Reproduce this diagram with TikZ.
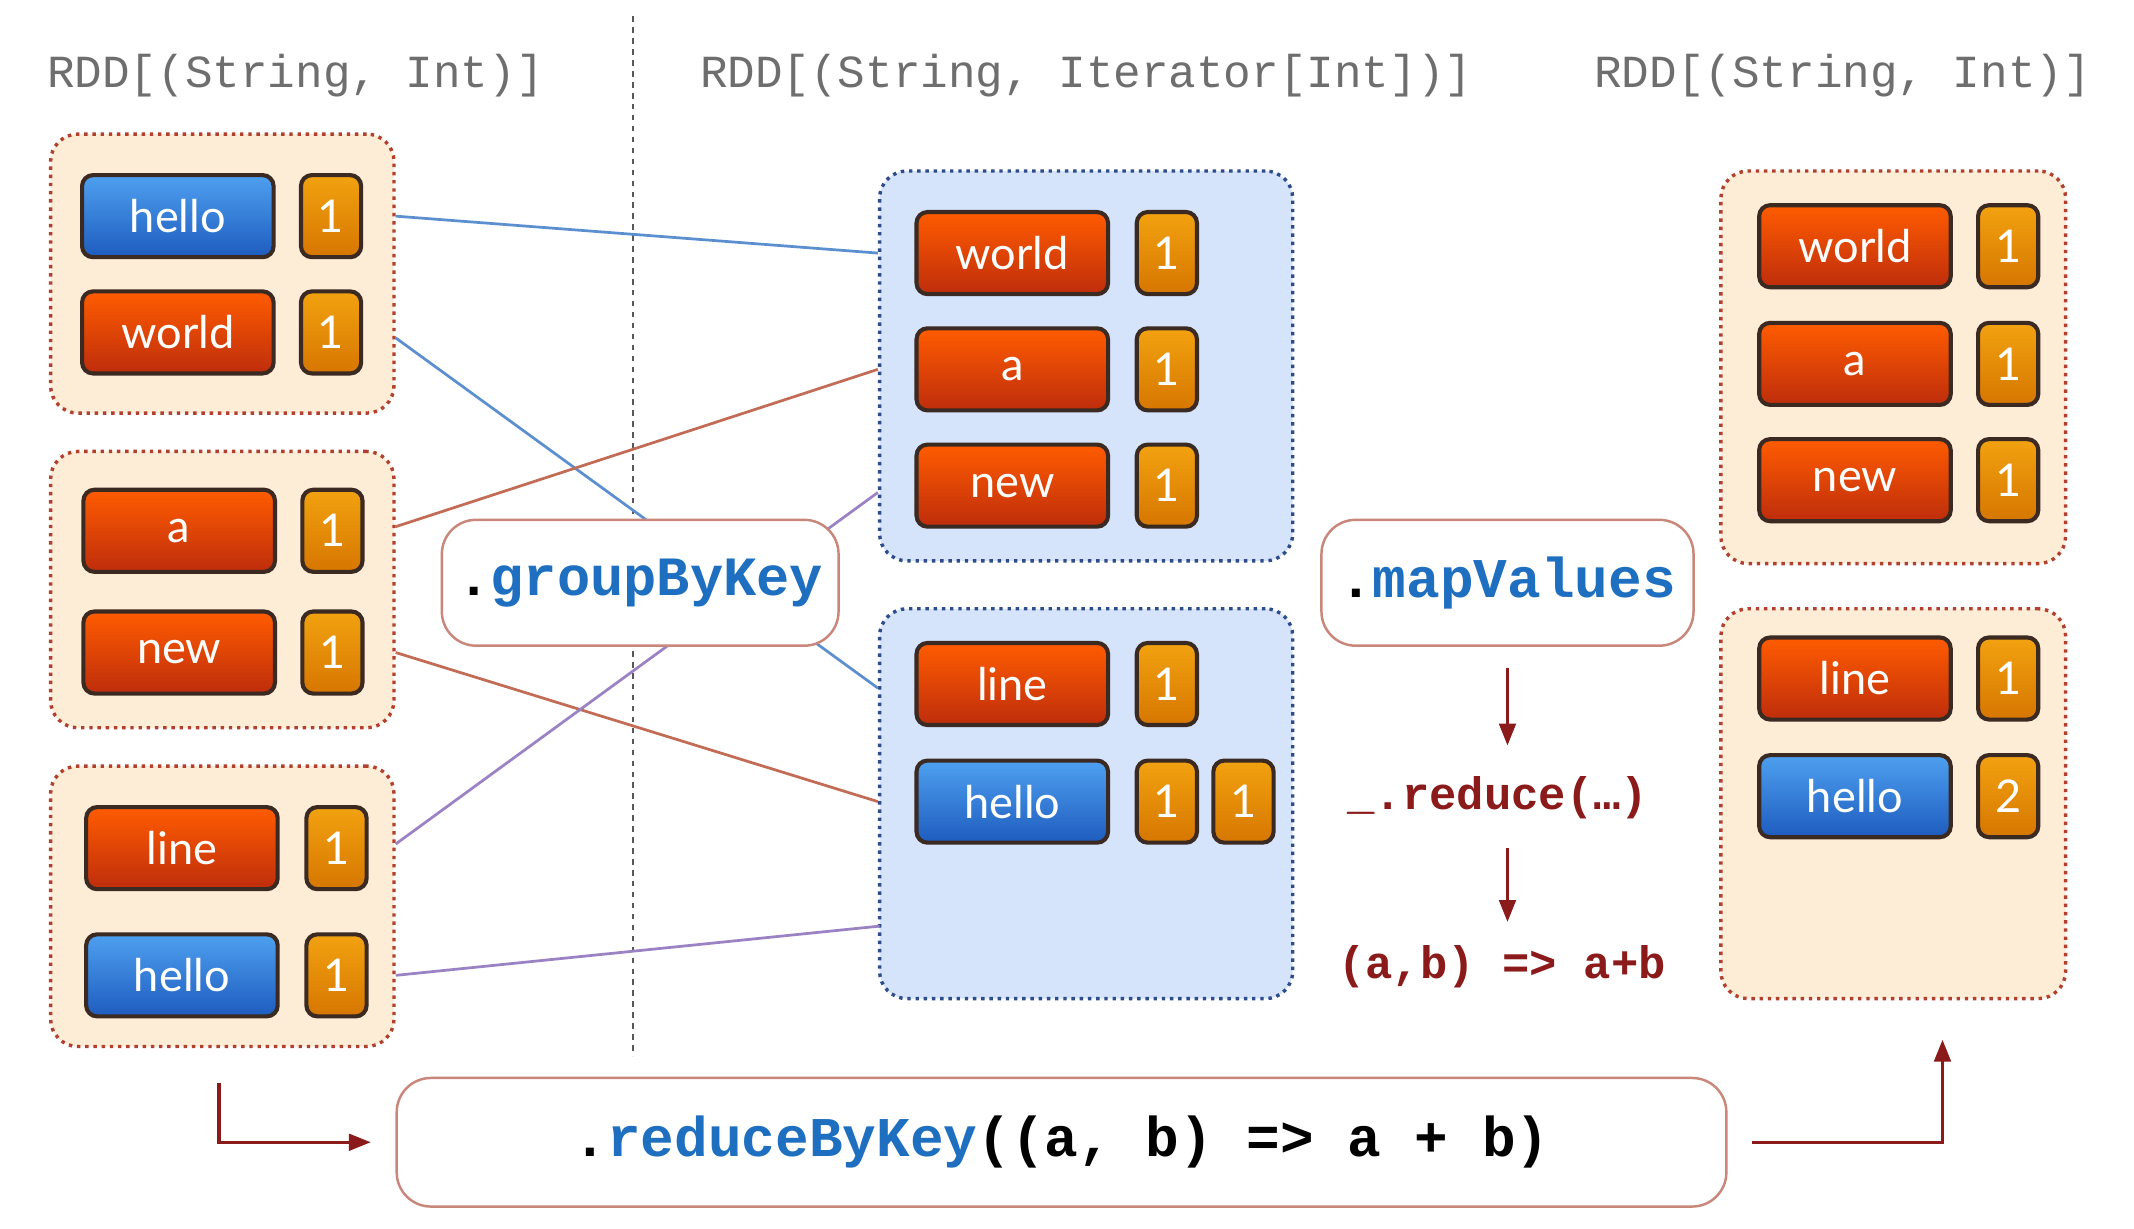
\documentclass[tikz,border=0pt]{standalone}
\usepackage{fontspec}
\setmonofont{Liberation Mono}
\newfontfamily\itemfont{Lato}
\usetikzlibrary{arrows.meta,shadings,calc}
\definecolor{hdrgray}{HTML}{6E6E6E}
\definecolor{codeblue}{HTML}{1F6FC0}
\definecolor{arrred}{HTML}{8B1A1A}
\definecolor{peach}{HTML}{FDECD6}
\definecolor{peachborder}{HTML}{B3402E}
\definecolor{bluefill}{HTML}{D5E3FB}
\definecolor{blueborder}{HTML}{2D4C8C}
\definecolor{opborder}{HTML}{C8877A}
\definecolor{itemborder}{HTML}{3A2A22}
\definecolor{cblueline}{HTML}{5B8FCF}
\definecolor{credline}{HTML}{C26B55}
\definecolor{cpurpline}{HTML}{9B82C4}
\begin{document}
\begin{tikzpicture}[x=1pt,y=-1pt,
  itembase/.style={draw=itemborder, line width=3pt, rounded corners=8pt, inner sep=0pt,
     text=white, font=\itemfont\fontsize{33}{38}\selectfont},
  redkey/.style={itembase, minimum width=140pt, minimum height=60pt, top color=red!20!orange!90!red, bottom color={rgb,255:red,190;green,45;blue,12}},
  bluekey/.style={itembase, minimum width=140pt, minimum height=60pt, top color={rgb,255:red,78;green,160;blue,240}, bottom color={rgb,255:red,30;green,92;blue,190}},
  cnt/.style={itembase, minimum width=44pt, minimum height=60pt, top color={rgb,255:red,242;green,162;blue,16}, bottom color={rgb,255:red,214;green,118;blue,0}},
  pgroup/.style={draw=peachborder, fill=peach, line width=2.5pt, dash pattern=on 2.5pt off 3.5pt, rounded corners=20pt, inner sep=0pt},
  bgroup/.style={draw=blueborder, fill=bluefill, line width=2.5pt, dash pattern=on 2.5pt off 3.5pt, rounded corners=20pt, inner sep=0pt},
  opbox/.style={draw=opborder, fill=white, line width=1.8pt, rounded corners=25pt, inner sep=0pt},
  hdr/.style={text=hdrgray, font=\ttfamily\fontsize{33.6}{40}\selectfont, inner sep=0pt},
  redtxt/.style={text=arrred, font=\ttfamily\bfseries\fontsize{33.3}{40}\selectfont, inner sep=0pt},
  conn/.style={line width=2pt},
  redarrow/.style={draw=arrred, line width=2.5pt, -{Triangle[length=16pt,width=12pt]}}
]
\useasboundingbox (0,0) rectangle (1560,898);
\fill[white] (0,0) rectangle (1560,898);

% headers
\node[hdr] (h1) at (216,55) {RDD[(String, Int)]};
\node[hdr] (h2) at (794,55) {RDD[(String, Iterator[Int])]};
\node[hdr] (h3) at (1347,55) {RDD[(String, Int)]};

% left groups
\node[pgroup, minimum width=251pt, minimum height=204pt] (l1) at (162.5,200) {};
\node[pgroup, minimum width=251pt, minimum height=202pt] (l2) at (162.5,431) {};
\node[pgroup, minimum width=251pt, minimum height=205pt] (l3) at (162.5,662.5) {};
\node[bluekey] (l1a) at (130,158) {hello};
\node[cnt] (l1ac) at (242,158) {1};
\node[redkey] (l1b) at (130,243) {world};
\node[cnt] (l1bc) at (242,243) {1};
\node[redkey] (l2a) at (131,388) {a};
\node[cnt] (l2ac) at (243,388) {1};
\node[redkey] (l2b) at (131,477) {new};
\node[cnt] (l2bc) at (243,477) {1};
\node[redkey] (l3a) at (133,620) {line};
\node[cnt] (l3ac) at (246,620) {1};
\node[bluekey] (l3b) at (133,713) {hello};
\node[cnt] (l3bc) at (246,713) {1};

% middle groups
\node[bgroup, minimum width=302pt, minimum height=285pt] (m1) at (794,267.5) {};
\node[bgroup, minimum width=302pt, minimum height=285pt] (m2) at (794,587.5) {};
\node[redkey] (m1a) at (740,185) {world};
\node[cnt] (m1ac) at (853,185) {1};
\node[redkey] (m1b) at (740,270) {a};
\node[cnt] (m1bc) at (853,270) {1};
\node[redkey] (m1c) at (740,355) {new};
\node[cnt] (m1cc) at (853,355) {1};
\node[redkey] (m2a) at (740,500) {line};
\node[cnt] (m2ac) at (853,500) {1};
\node[bluekey] (m2b) at (740,586) {hello};
\node[cnt] (m2bc) at (853,586) {1};
\node[cnt] (m2bd) at (909,586) {1};
\coordinate (pend) at (643,677);

% right groups
\node[pgroup, minimum width=252pt, minimum height=287pt] (r1) at (1384,268.5) {};
\node[pgroup, minimum width=252pt, minimum height=285pt] (r2) at (1384,587.5) {};
\node[redkey] (r1a) at (1356,180) {world};
\node[cnt] (r1ac) at (1468,180) {1};
\node[redkey] (r1b) at (1356,266) {a};
\node[cnt] (r1bc) at (1468,266) {1};
\node[redkey] (r1c) at (1356,351) {new};
\node[cnt] (r1cc) at (1468,351) {1};
\node[redkey] (r2a) at (1356,496) {line};
\node[cnt] (r2ac) at (1468,496) {1};
\node[bluekey] (r2b) at (1356,582) {hello};
\node[cnt] (r2bc) at (1468,582) {2};

% dotted separator
\coordinate (sept) at (463,12);
\coordinate (sepb) at (463,772);
\draw[hdrgray!80!black, line width=1.6pt, dash pattern=on 4pt off 4pt] (sept) -- (sepb);

% connectors
\draw[conn, cblueline] (l1.east |- l1a) -- (m1.west |- m1a);
\draw[conn, cblueline] ($(l1.east |- l1b)+(0,4)$) -- ($(m2.west |- m2a)+(0,3)$);
\draw[conn, credline] ($(l2.east |- l2a)+(0,-3)$) -- (m1.west |- m1b);
\draw[conn, credline] (l2.east |- l2b) -- (m2.west |- m2b);
\draw[conn, cpurpline] ($(l3.east |- l3a)+(0,-3)$) -- ($(m1.west |- m1c)+(0,5)$);
\draw[conn, cpurpline] (l3.east |- l3b) -- (pend);

% operation boxes
\node[opbox, minimum width=290pt, minimum height=92pt] (gbk) at (468,426)
  {\ttfamily\bfseries\fontsize{40.5}{48}\selectfont .\textcolor{codeblue}{groupByKey}};
\node[opbox, minimum width=272pt, minimum height=92pt] (mv) at (1102,426)
  {\ttfamily\bfseries\fontsize{41}{48}\selectfont .\textcolor{codeblue}{mapValues}};
\node[opbox, minimum width=972pt, minimum height=94pt] (rbk) at (776,835)
  {\ttfamily\bfseries\fontsize{41}{48}\selectfont .\textcolor{codeblue}{reduceByKey}((a, b) => a + b)};

% reduce annotations
\node[redtxt] (red1) at (1095,583) {\_.reduce(…)};
\node[redtxt] (red2) at (1098,707) {(a,b) => a+b};
\coordinate (d1s) at (1102,488);
\coordinate (d1e) at (1102,545);
\coordinate (d2s) at (1102,620);
\coordinate (d2e) at (1102,674);
\draw[redarrow] (d1s) -- (d1e);
\draw[redarrow] (d2s) -- (d2e);

% bent arrows
\coordinate (la) at (160,792);
\coordinate (ra) at (1420,760);
\draw[redarrow, shorten >=18pt] (la) |- (rbk.west);
\draw[redarrow, shorten <=18pt] (rbk.east) -| (ra);
\end{tikzpicture}
\end{document}
